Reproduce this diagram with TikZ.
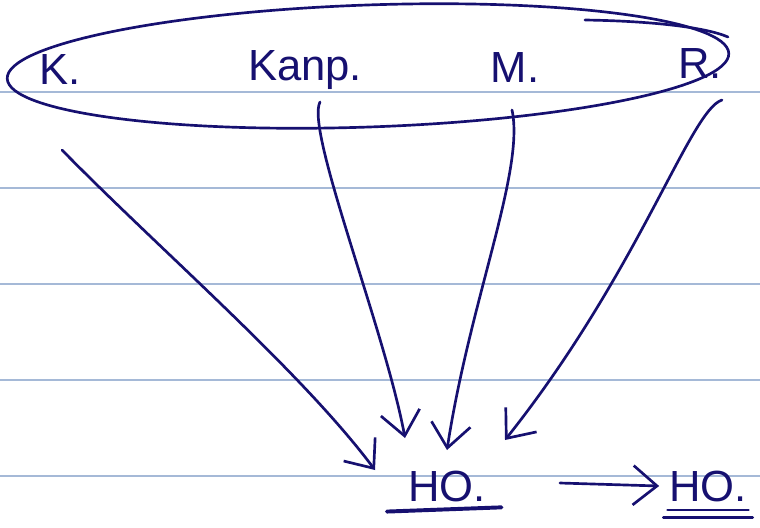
\documentclass[tikz,border=0pt]{standalone}
\usepackage{fontspec}
\setmainfont{Liberation Sans}
\usetikzlibrary{arrows.meta}
\definecolor{ink}{RGB}{22,16,112}
\definecolor{rule}{RGB}{165,185,215}
\tikzset{
    pen/.style={draw=ink, line width=1.9pt, line cap=round, line join=round},
    arrowpen/.style={pen, -{Straight Barb[length=17pt, width=28pt, line width=1.9pt]}},
    word/.style={text=ink, font=\fontsize{31}{33}\selectfont, inner sep=1pt}
}
\begin{document}
\begin{tikzpicture}[x=0.025cm, y=-0.025cm]
    \useasboundingbox (0,0) rectangle (760,527);
    % ruled paper
    \foreach \y in {92,188,284,380,476} {
        \draw[rule, line width=0.8pt] (0,\y) -- (760,\y);
    }

    % the group
    \draw[pen, rotate around={2:(368,66)}] (368,66) ellipse (361 and 61);
    \draw[pen] (585,20) .. controls (650,21) and (705,27) .. (728,37);
    \node[word] (k) at (60,70) {K.};
    \node[word] (kanp) at (305,70) {Kanp.};
    \node[word] (m) at (515,68) {M.};
    \node[word] (r) at (700,64) {R.};

    % result
    \node[word] (ho) at (447,486) {HO.};
    \node[word] (ho2) at (708,486) {HO.};
    \coordinate (sk) at (62,150);
    \coordinate (skanp) at (320,102);
    \coordinate (sm) at (512,110);
    \coordinate (sr) at (722,100);
    \coordinate (tk) at (375,470);
    \coordinate (tkanp) at (405,438);
    \coordinate (tm) at (447,450);
    \coordinate (tr) at (505,440);
    \coordinate (a1) at (560,483);

    % arrows
    \draw[arrowpen] (sk) .. controls (160,250) and (300,370) .. (tk);
    \draw[arrowpen] (skanp) .. controls (305,130) and (385,330) .. (tkanp);
    \draw[arrowpen] (sm) .. controls (525,170) and (470,300) .. (tm);
    \draw[arrowpen] (sr) .. controls (690,110) and (640,270) .. (tr);
    \draw[arrowpen] (a1) -- ([xshift=-6pt]ho2.west);

    % underlines
    \draw[pen, line width=2.8pt] ([xshift=-14pt, yshift=-6pt]ho.south west) -- ([xshift=10pt, yshift=-3pt]ho.south east);
    \draw[pen] ([yshift=-5pt]ho2.south west) -- ([yshift=-5pt]ho2.south east);
    \draw[pen] ([xshift=-3pt, yshift=-10pt]ho2.south west) -- ([xshift=3pt, yshift=-10pt]ho2.south east);
\end{tikzpicture}
\end{document}
